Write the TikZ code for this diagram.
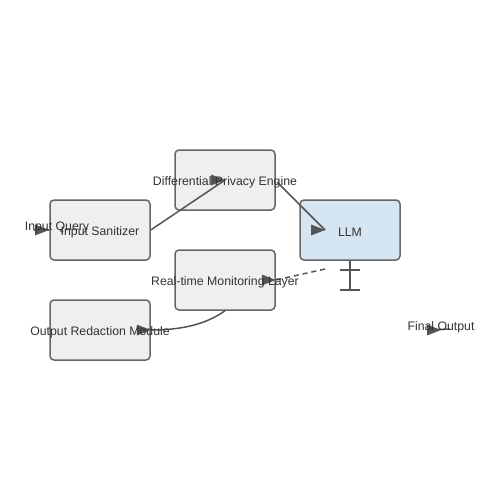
\documentclass[tikz,border=0pt]{standalone}
\usepackage{fontspec}
\setmainfont{Liberation Sans}
\definecolor{boxfill}{HTML}{EFEFEF}
\definecolor{boxline}{HTML}{666666}
\definecolor{llmfill}{HTML}{D5E5F1}
\definecolor{edgec}{HTML}{555555}
\definecolor{txt}{HTML}{333333}
\newcommand\tiphead[1]{\fill[edgec] (#1) -- ++(-14,-5.5) -- ++(0,11) -- cycle;}
\begin{document}
\begin{tikzpicture}[x=1pt,y=-1pt,
  box/.style={draw=boxline,line width=1.5pt,fill=boxfill,rounded corners=4pt,minimum width=100pt,minimum height=60pt,inner sep=0pt},
  lbl/.style={text=txt,font=\fontsize{12.3}{14}\selectfont,inner sep=0pt},
  edge/.style={draw=edgec,line width=1.5pt}]
\useasboundingbox (0,0) rectangle (500,500);
\fill[white] (0,0) rectangle (500,500);
\node[box] (is) at (100,230) {};
\node[box] (dp) at (225,180) {};
\node[box,fill=llmfill] (llm) at (350,230) {};
\node[box] (rt) at (225,280) {};
\node[box] (or) at (100,330) {};
% connectors
\coordinate (qstart) at (34,230);
\coordinate (qend) at (49,230);
\draw[edge] (qstart) -- (qend);
\tiphead{qend}
\draw[edge] (is.east) -- (dp.center);
\tiphead{dp.center}
\coordinate (llmin) at (325,230);
\draw[edge] (277,182) -- (llmin);
\tiphead{llmin}
\coordinate (tbot) at (350,290);
\draw[edge,line width=2pt] (llm.south) -- (tbot);
\draw[edge,line width=2pt] (340,270) -- (360,270);
\draw[edge,line width=2pt] (340,290) -- (360,290);
\coordinate (dstart) at (325,269);
\draw[edge,dash pattern=on 5pt off 4pt] (dstart) -- (rt.east);
\tiphead{rt.east}
\draw[edge] (rt.south) .. controls (205,325) and (180,330) .. (or.east);
\tiphead{or.east}
\coordinate (fa) at (427,330);
\coordinate (fb) at (450,329);
\coordinate (ftip) at (441,330);
\draw[edge] (fa) -- (fb);
\tiphead{ftip}
% labels
\node[lbl] (lis) at (100,232) {Input Sanitizer};
\node[lbl] (ldp) at (225,182) {Differential Privacy Engine};
\node[lbl] (lllm) at (350,232) {LLM};
\node[lbl] (lrt) at (225,282) {Real-time Monitoring Layer};
\node[lbl] (lor) at (100,332) {Output Redaction Module};
\node[lbl] (lq) at (57,227) {Input Query};
\node[lbl] (lf) at (441,327) {Final Output};
\end{tikzpicture}
\end{document}
